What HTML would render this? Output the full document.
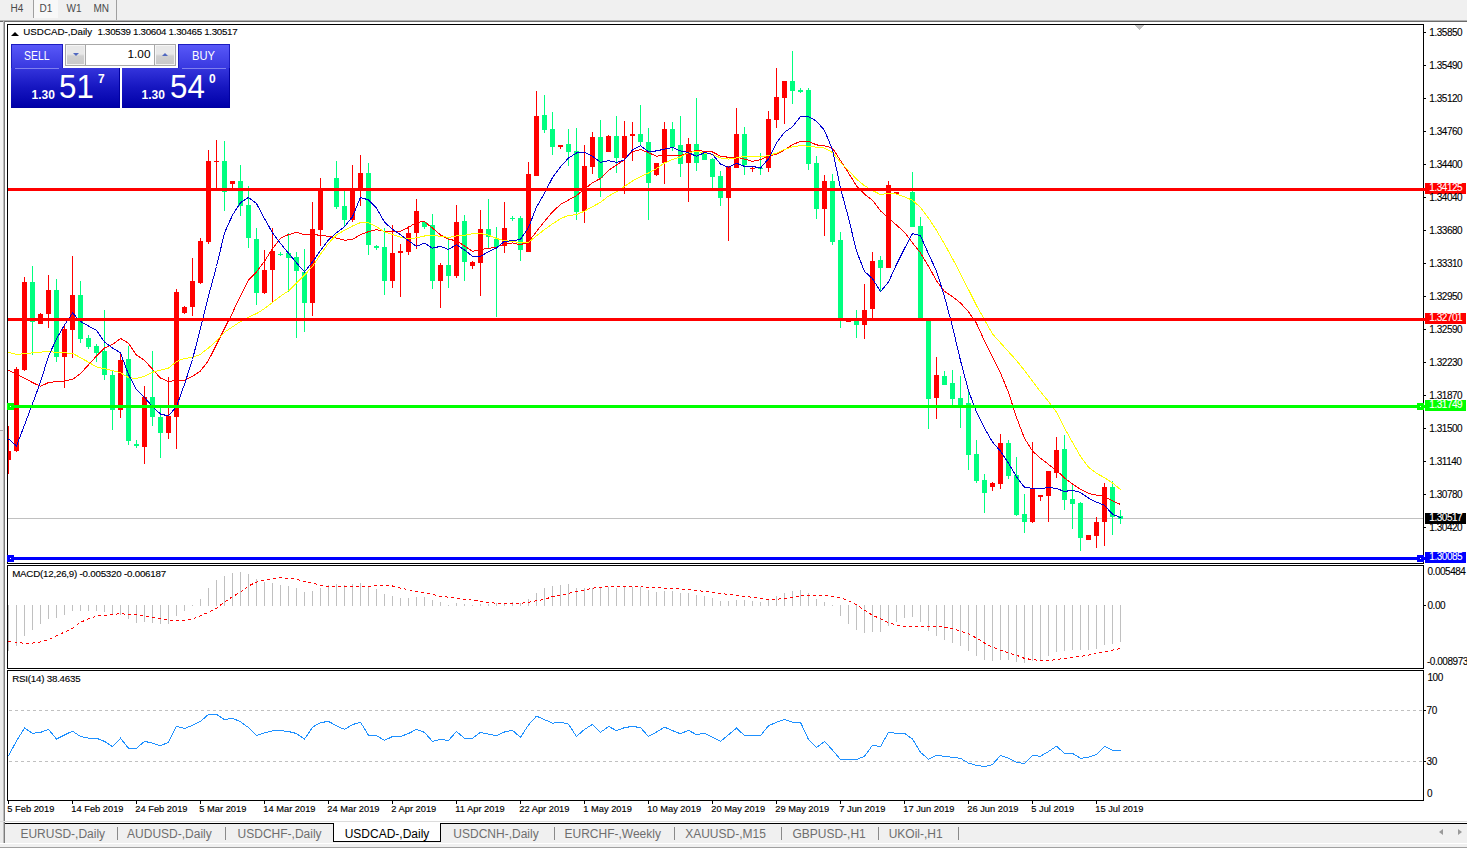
<!DOCTYPE html>
<html><head><meta charset="utf-8"><title>USDCAD-,Daily</title>
<style>
html,body{margin:0;padding:0;background:#fff;}
body{width:1467px;height:850px;position:relative;overflow:hidden;font-family:"Liberation Sans",sans-serif;}
.a{position:absolute;white-space:nowrap;line-height:1;}
.ax{position:absolute;white-space:nowrap;line-height:1;font-size:10px;letter-spacing:-0.47px;color:#000;left:1429.3px;-webkit-text-stroke:0.1px currentColor;}
.dt{position:absolute;white-space:nowrap;line-height:1;font-size:9.3px;color:#000;top:805px;-webkit-text-stroke:0.15px currentColor;}
.tab{position:absolute;white-space:nowrap;line-height:1;font-size:12px;color:#6e6e6e;top:828px;}
.sep{position:absolute;width:1px;height:13px;top:827px;background:#8a8a8a;}
svg{position:absolute;left:0;top:0;}
</style></head><body>
<div class="a" style="left:0;top:0;width:1467px;height:20px;background:#f0f0f0"></div>
<div class="a" style="left:0;top:20px;width:1467px;height:1px;background:#b4b4b4"></div>
<div class="a" style="left:0;top:21px;width:1467px;height:1px;background:#6a6a6a"></div>
<div class="a" style="left:0;top:22px;width:3px;height:408px;background:#f3f3f3"></div>
<div class="a" style="left:0;top:430px;width:3px;height:1px;background:#a8a8a8"></div>
<div class="a" style="left:0;top:431px;width:3px;height:412px;background:#ececec"></div>
<div class="a" style="left:3px;top:21px;width:1px;height:822px;background:#bcbcbc"></div>
<div class="a" style="left:4px;top:21px;width:1px;height:822px;background:#7c7c7c"></div>
<div class="a" style="left:34px;top:0;width:24px;height:18px;background:#f8f8f8"></div>
<div class="a" style="left:33px;top:0;width:1px;height:18px;background:#a0a0a0"></div>
<div class="a" style="left:116px;top:0;width:1px;height:20px;background:#a0a0a0"></div>
<div class="a" style="left:10.5px;top:3.5px;font-size:10px;color:#4a4a4a">H4</div>
<div class="a" style="left:39.5px;top:3.5px;font-size:10px;color:#4a4a4a">D1</div>
<div class="a" style="left:66.5px;top:3.5px;font-size:10px;color:#4a4a4a">W1</div>
<div class="a" style="left:93.5px;top:3.5px;font-size:10px;color:#4a4a4a">MN</div>
<div class="a" style="left:0;top:821px;width:1467px;height:1px;background:#dcdcdc"></div>
<div class="a" style="left:5px;top:823px;width:1462px;height:1px;background:#000"></div>
<div class="a" style="left:5px;top:824px;width:1462px;height:19px;background:#f0f0f0"></div>
<div class="a" style="left:0;top:843px;width:1467px;height:1px;background:#ffffff"></div>
<div class="a" style="left:0;top:844px;width:1467px;height:3px;background:#f0f0f0"></div>
<div class="a" style="left:0;top:847px;width:1467px;height:1px;background:#a0a0a0"></div>
<div class="a" style="left:0;top:848px;width:1467px;height:2px;background:#ffffff"></div>
<div class="a" style="left:333px;top:823px;width:108px;height:19px;background:#fff;border-left:1px solid #000;border-right:1px solid #000;border-bottom:1px solid #000;box-sizing:border-box"></div>
<div class="tab" style="left:20.4px">EURUSD-,Daily</div>
<div class="tab" style="left:127.1px">AUDUSD-,Daily</div>
<div class="tab" style="left:237.6px">USDCHF-,Daily</div>
<div class="tab" style="left:453.3px">USDCNH-,Daily</div>
<div class="tab" style="left:564.5px">EURCHF-,Weekly</div>
<div class="tab" style="left:685.2px">XAUUSD-,M15</div>
<div class="tab" style="left:792.4px">GBPUSD-,H1</div>
<div class="tab" style="left:888.7px">UKOil-,H1</div>
<div class="tab" style="left:344.7px;color:#000">USDCAD-,Daily</div>
<div class="sep" style="left:117px"></div>
<div class="sep" style="left:225px"></div>
<div class="sep" style="left:554px"></div>
<div class="sep" style="left:674px"></div>
<div class="sep" style="left:781px"></div>
<div class="sep" style="left:878px"></div>
<div class="sep" style="left:958px"></div>
<div class="a" style="left:1439px;top:829px;width:0;height:0;border-top:3.5px solid transparent;border-bottom:3.5px solid transparent;border-right:4px solid #9a9a9a"></div>
<div class="a" style="left:1458px;top:829px;width:0;height:0;border-top:3.5px solid transparent;border-bottom:3.5px solid transparent;border-left:4px solid #9a9a9a"></div>
<svg width="1467" height="850" viewBox="0 0 1467 850" shape-rendering="crispEdges">
<rect x="8" y="518" width="1415" height="1" fill="#c0c0c0"/>
<rect x="8" y="426" width="1" height="48" fill="#ff0000"/>
<rect x="8" y="451" width="3" height="9" fill="#ff0000"/>
<rect x="16" y="367" width="1" height="85" fill="#ff0000"/>
<rect x="14" y="369" width="5" height="82" fill="#ff0000"/>
<rect x="24" y="277" width="1" height="94" fill="#ff0000"/>
<rect x="22" y="282" width="5" height="88" fill="#ff0000"/>
<rect x="32" y="266" width="1" height="89" fill="#00ff7f"/>
<rect x="30" y="282" width="5" height="40" fill="#00ff7f"/>
<rect x="40" y="313" width="1" height="11" fill="#ff0000"/>
<rect x="38" y="314" width="5" height="10" fill="#ff0000"/>
<rect x="48" y="275" width="1" height="53" fill="#ff0000"/>
<rect x="46" y="290" width="5" height="24" fill="#ff0000"/>
<rect x="56" y="279" width="1" height="83" fill="#00ff7f"/>
<rect x="54" y="290" width="5" height="67" fill="#00ff7f"/>
<rect x="64" y="326" width="1" height="62" fill="#ff0000"/>
<rect x="62" y="329" width="5" height="28" fill="#ff0000"/>
<rect x="72" y="256" width="1" height="102" fill="#ff0000"/>
<rect x="70" y="295" width="5" height="35" fill="#ff0000"/>
<rect x="80" y="281" width="1" height="62" fill="#00ff7f"/>
<rect x="78" y="295" width="5" height="44" fill="#00ff7f"/>
<rect x="88" y="335" width="1" height="14" fill="#00ff7f"/>
<rect x="86" y="338" width="5" height="9" fill="#00ff7f"/>
<rect x="96" y="344" width="1" height="18" fill="#00ff7f"/>
<rect x="94" y="346" width="5" height="7" fill="#00ff7f"/>
<rect x="104" y="310" width="1" height="70" fill="#00ff7f"/>
<rect x="102" y="351" width="5" height="24" fill="#00ff7f"/>
<rect x="112" y="371" width="1" height="59" fill="#00ff7f"/>
<rect x="110" y="375" width="5" height="35" fill="#00ff7f"/>
<rect x="120" y="353" width="1" height="65" fill="#ff0000"/>
<rect x="118" y="360" width="5" height="50" fill="#ff0000"/>
<rect x="128" y="346" width="1" height="99" fill="#00ff7f"/>
<rect x="126" y="359" width="5" height="82" fill="#00ff7f"/>
<rect x="136" y="440" width="1" height="8" fill="#00ff7f"/>
<rect x="134" y="444" width="5" height="2" fill="#00ff7f"/>
<rect x="144" y="386" width="1" height="78" fill="#ff0000"/>
<rect x="142" y="397" width="5" height="50" fill="#ff0000"/>
<rect x="152" y="351" width="1" height="75" fill="#00ff7f"/>
<rect x="150" y="397" width="5" height="20" fill="#00ff7f"/>
<rect x="160" y="408" width="1" height="50" fill="#00ff7f"/>
<rect x="158" y="417" width="5" height="16" fill="#00ff7f"/>
<rect x="168" y="377" width="1" height="62" fill="#ff0000"/>
<rect x="166" y="416" width="5" height="17" fill="#ff0000"/>
<rect x="176" y="289" width="1" height="160" fill="#ff0000"/>
<rect x="174" y="292" width="5" height="125" fill="#ff0000"/>
<rect x="184" y="306" width="1" height="8" fill="#ff0000"/>
<rect x="182" y="307" width="5" height="6" fill="#ff0000"/>
<rect x="192" y="258" width="1" height="58" fill="#ff0000"/>
<rect x="190" y="281" width="5" height="26" fill="#ff0000"/>
<rect x="200" y="238" width="1" height="46" fill="#ff0000"/>
<rect x="198" y="241" width="5" height="42" fill="#ff0000"/>
<rect x="208" y="150" width="1" height="94" fill="#ff0000"/>
<rect x="206" y="161" width="5" height="81" fill="#ff0000"/>
<rect x="216" y="140" width="1" height="50" fill="#ff0000"/>
<rect x="214" y="161" width="5" height="1" fill="#ff0000"/>
<rect x="224" y="141" width="1" height="70" fill="#00ff7f"/>
<rect x="222" y="161" width="5" height="31" fill="#00ff7f"/>
<rect x="232" y="181" width="1" height="7" fill="#ff0000"/>
<rect x="230" y="181" width="5" height="3" fill="#ff0000"/>
<rect x="240" y="165" width="1" height="51" fill="#00ff7f"/>
<rect x="238" y="181" width="5" height="25" fill="#00ff7f"/>
<rect x="248" y="186" width="1" height="62" fill="#00ff7f"/>
<rect x="246" y="205" width="5" height="33" fill="#00ff7f"/>
<rect x="256" y="228" width="1" height="77" fill="#00ff7f"/>
<rect x="254" y="239" width="5" height="54" fill="#00ff7f"/>
<rect x="264" y="250" width="1" height="44" fill="#ff0000"/>
<rect x="262" y="270" width="5" height="23" fill="#ff0000"/>
<rect x="272" y="228" width="1" height="75" fill="#ff0000"/>
<rect x="270" y="251" width="5" height="19" fill="#ff0000"/>
<rect x="280" y="252" width="1" height="4" fill="#00ff7f"/>
<rect x="278" y="254" width="5" height="1" fill="#00ff7f"/>
<rect x="288" y="233" width="1" height="59" fill="#00ff7f"/>
<rect x="286" y="253" width="5" height="5" fill="#00ff7f"/>
<rect x="296" y="252" width="1" height="86" fill="#00ff7f"/>
<rect x="294" y="257" width="5" height="14" fill="#00ff7f"/>
<rect x="304" y="249" width="1" height="83" fill="#00ff7f"/>
<rect x="302" y="272" width="5" height="31" fill="#00ff7f"/>
<rect x="312" y="202" width="1" height="114" fill="#ff0000"/>
<rect x="310" y="229" width="5" height="74" fill="#ff0000"/>
<rect x="320" y="178" width="1" height="68" fill="#ff0000"/>
<rect x="318" y="188" width="5" height="42" fill="#ff0000"/>
<rect x="328" y="236" width="1" height="1" fill="#ff0000"/>
<rect x="326" y="236" width="5" height="1" fill="#ff0000"/>
<rect x="336" y="161" width="1" height="48" fill="#00ff7f"/>
<rect x="334" y="178" width="5" height="29" fill="#00ff7f"/>
<rect x="344" y="191" width="1" height="36" fill="#00ff7f"/>
<rect x="342" y="206" width="5" height="14" fill="#00ff7f"/>
<rect x="352" y="165" width="1" height="57" fill="#ff0000"/>
<rect x="350" y="188" width="5" height="32" fill="#ff0000"/>
<rect x="360" y="155" width="1" height="51" fill="#ff0000"/>
<rect x="358" y="173" width="5" height="16" fill="#ff0000"/>
<rect x="368" y="163" width="1" height="92" fill="#00ff7f"/>
<rect x="366" y="173" width="5" height="72" fill="#00ff7f"/>
<rect x="376" y="245" width="1" height="5" fill="#00ff7f"/>
<rect x="374" y="246" width="5" height="2" fill="#00ff7f"/>
<rect x="384" y="228" width="1" height="67" fill="#00ff7f"/>
<rect x="382" y="247" width="5" height="34" fill="#00ff7f"/>
<rect x="392" y="225" width="1" height="63" fill="#ff0000"/>
<rect x="390" y="253" width="5" height="28" fill="#ff0000"/>
<rect x="400" y="244" width="1" height="53" fill="#ff0000"/>
<rect x="398" y="251" width="5" height="2" fill="#ff0000"/>
<rect x="408" y="226" width="1" height="29" fill="#ff0000"/>
<rect x="406" y="233" width="5" height="19" fill="#ff0000"/>
<rect x="416" y="199" width="1" height="50" fill="#ff0000"/>
<rect x="414" y="211" width="5" height="22" fill="#ff0000"/>
<rect x="424" y="221" width="1" height="8" fill="#00ff7f"/>
<rect x="422" y="222" width="5" height="5" fill="#00ff7f"/>
<rect x="432" y="214" width="1" height="75" fill="#00ff7f"/>
<rect x="430" y="225" width="5" height="56" fill="#00ff7f"/>
<rect x="440" y="263" width="1" height="45" fill="#ff0000"/>
<rect x="438" y="265" width="5" height="16" fill="#ff0000"/>
<rect x="448" y="238" width="1" height="50" fill="#00ff7f"/>
<rect x="446" y="265" width="5" height="11" fill="#00ff7f"/>
<rect x="456" y="205" width="1" height="73" fill="#ff0000"/>
<rect x="454" y="222" width="5" height="54" fill="#ff0000"/>
<rect x="464" y="215" width="1" height="66" fill="#00ff7f"/>
<rect x="462" y="221" width="5" height="41" fill="#00ff7f"/>
<rect x="472" y="261" width="1" height="8" fill="#ff0000"/>
<rect x="470" y="262" width="5" height="4" fill="#ff0000"/>
<rect x="480" y="210" width="1" height="86" fill="#ff0000"/>
<rect x="478" y="229" width="5" height="34" fill="#ff0000"/>
<rect x="488" y="199" width="1" height="50" fill="#00ff7f"/>
<rect x="486" y="229" width="5" height="8" fill="#00ff7f"/>
<rect x="496" y="227" width="1" height="90" fill="#00ff7f"/>
<rect x="494" y="239" width="5" height="8" fill="#00ff7f"/>
<rect x="504" y="202" width="1" height="51" fill="#ff0000"/>
<rect x="502" y="228" width="5" height="18" fill="#ff0000"/>
<rect x="512" y="216" width="1" height="5" fill="#00ff7f"/>
<rect x="510" y="218" width="5" height="1" fill="#00ff7f"/>
<rect x="520" y="216" width="1" height="45" fill="#00ff7f"/>
<rect x="518" y="218" width="5" height="32" fill="#00ff7f"/>
<rect x="528" y="162" width="1" height="90" fill="#ff0000"/>
<rect x="526" y="174" width="5" height="78" fill="#ff0000"/>
<rect x="536" y="91" width="1" height="85" fill="#ff0000"/>
<rect x="534" y="116" width="5" height="60" fill="#ff0000"/>
<rect x="544" y="95" width="1" height="38" fill="#00ff7f"/>
<rect x="542" y="115" width="5" height="15" fill="#00ff7f"/>
<rect x="552" y="112" width="1" height="43" fill="#00ff7f"/>
<rect x="550" y="129" width="5" height="18" fill="#00ff7f"/>
<rect x="560" y="145" width="1" height="4" fill="#ff0000"/>
<rect x="558" y="145" width="5" height="2" fill="#ff0000"/>
<rect x="568" y="129" width="1" height="37" fill="#00ff7f"/>
<rect x="566" y="144" width="5" height="8" fill="#00ff7f"/>
<rect x="576" y="128" width="1" height="92" fill="#00ff7f"/>
<rect x="574" y="151" width="5" height="61" fill="#00ff7f"/>
<rect x="584" y="145" width="1" height="78" fill="#ff0000"/>
<rect x="582" y="166" width="5" height="45" fill="#ff0000"/>
<rect x="592" y="132" width="1" height="42" fill="#ff0000"/>
<rect x="590" y="137" width="5" height="30" fill="#ff0000"/>
<rect x="600" y="120" width="1" height="77" fill="#00ff7f"/>
<rect x="598" y="137" width="5" height="41" fill="#00ff7f"/>
<rect x="608" y="135" width="1" height="17" fill="#ff0000"/>
<rect x="606" y="136" width="5" height="16" fill="#ff0000"/>
<rect x="616" y="116" width="1" height="57" fill="#00ff7f"/>
<rect x="614" y="136" width="5" height="22" fill="#00ff7f"/>
<rect x="624" y="121" width="1" height="73" fill="#ff0000"/>
<rect x="622" y="136" width="5" height="22" fill="#ff0000"/>
<rect x="632" y="122" width="1" height="39" fill="#ff0000"/>
<rect x="630" y="134" width="5" height="2" fill="#ff0000"/>
<rect x="640" y="105" width="1" height="41" fill="#00ff7f"/>
<rect x="638" y="134" width="5" height="8" fill="#00ff7f"/>
<rect x="648" y="128" width="1" height="92" fill="#00ff7f"/>
<rect x="646" y="142" width="5" height="41" fill="#00ff7f"/>
<rect x="656" y="163" width="1" height="13" fill="#ff0000"/>
<rect x="654" y="163" width="5" height="12" fill="#ff0000"/>
<rect x="664" y="122" width="1" height="62" fill="#ff0000"/>
<rect x="662" y="129" width="5" height="34" fill="#ff0000"/>
<rect x="672" y="122" width="1" height="29" fill="#00ff7f"/>
<rect x="670" y="129" width="5" height="18" fill="#00ff7f"/>
<rect x="680" y="116" width="1" height="61" fill="#00ff7f"/>
<rect x="678" y="145" width="5" height="19" fill="#00ff7f"/>
<rect x="688" y="138" width="1" height="64" fill="#ff0000"/>
<rect x="686" y="144" width="5" height="19" fill="#ff0000"/>
<rect x="696" y="98" width="1" height="73" fill="#00ff7f"/>
<rect x="694" y="144" width="5" height="19" fill="#00ff7f"/>
<rect x="704" y="151" width="1" height="9" fill="#00ff7f"/>
<rect x="702" y="152" width="5" height="8" fill="#00ff7f"/>
<rect x="712" y="158" width="1" height="32" fill="#00ff7f"/>
<rect x="710" y="159" width="5" height="18" fill="#00ff7f"/>
<rect x="720" y="171" width="1" height="35" fill="#00ff7f"/>
<rect x="718" y="176" width="5" height="22" fill="#00ff7f"/>
<rect x="728" y="166" width="1" height="75" fill="#ff0000"/>
<rect x="726" y="166" width="5" height="32" fill="#ff0000"/>
<rect x="736" y="108" width="1" height="60" fill="#ff0000"/>
<rect x="734" y="134" width="5" height="34" fill="#ff0000"/>
<rect x="744" y="127" width="1" height="48" fill="#00ff7f"/>
<rect x="742" y="134" width="5" height="31" fill="#00ff7f"/>
<rect x="752" y="167" width="1" height="5" fill="#ff0000"/>
<rect x="750" y="168" width="5" height="1" fill="#ff0000"/>
<rect x="760" y="153" width="1" height="22" fill="#00ff7f"/>
<rect x="758" y="168" width="5" height="1" fill="#00ff7f"/>
<rect x="768" y="111" width="1" height="61" fill="#ff0000"/>
<rect x="766" y="119" width="5" height="49" fill="#ff0000"/>
<rect x="776" y="68" width="1" height="60" fill="#ff0000"/>
<rect x="774" y="97" width="5" height="23" fill="#ff0000"/>
<rect x="784" y="81" width="1" height="43" fill="#ff0000"/>
<rect x="782" y="81" width="5" height="17" fill="#ff0000"/>
<rect x="792" y="51" width="1" height="53" fill="#00ff7f"/>
<rect x="790" y="81" width="5" height="10" fill="#00ff7f"/>
<rect x="800" y="88" width="1" height="5" fill="#00ff7f"/>
<rect x="798" y="90" width="5" height="2" fill="#00ff7f"/>
<rect x="808" y="88" width="1" height="82" fill="#00ff7f"/>
<rect x="806" y="90" width="5" height="74" fill="#00ff7f"/>
<rect x="816" y="156" width="1" height="63" fill="#00ff7f"/>
<rect x="814" y="163" width="5" height="46" fill="#00ff7f"/>
<rect x="824" y="175" width="1" height="61" fill="#ff0000"/>
<rect x="822" y="181" width="5" height="28" fill="#ff0000"/>
<rect x="832" y="174" width="1" height="71" fill="#00ff7f"/>
<rect x="830" y="181" width="5" height="61" fill="#00ff7f"/>
<rect x="840" y="232" width="1" height="96" fill="#00ff7f"/>
<rect x="838" y="240" width="5" height="79" fill="#00ff7f"/>
<rect x="848" y="318" width="1" height="4" fill="#ff0000"/>
<rect x="846" y="318" width="5" height="4" fill="#ff0000"/>
<rect x="856" y="310" width="1" height="28" fill="#00ff7f"/>
<rect x="854" y="321" width="5" height="4" fill="#00ff7f"/>
<rect x="864" y="284" width="1" height="55" fill="#ff0000"/>
<rect x="862" y="310" width="5" height="15" fill="#ff0000"/>
<rect x="872" y="252" width="1" height="66" fill="#ff0000"/>
<rect x="870" y="261" width="5" height="48" fill="#ff0000"/>
<rect x="880" y="256" width="1" height="36" fill="#00ff7f"/>
<rect x="878" y="260" width="5" height="8" fill="#00ff7f"/>
<rect x="888" y="181" width="1" height="87" fill="#ff0000"/>
<rect x="886" y="185" width="5" height="83" fill="#ff0000"/>
<rect x="896" y="192" width="1" height="2" fill="#ff0000"/>
<rect x="894" y="192" width="5" height="2" fill="#ff0000"/>
<rect x="912" y="172" width="1" height="55" fill="#00ff7f"/>
<rect x="910" y="192" width="5" height="35" fill="#00ff7f"/>
<rect x="920" y="217" width="1" height="102" fill="#00ff7f"/>
<rect x="918" y="226" width="5" height="93" fill="#00ff7f"/>
<rect x="928" y="318" width="1" height="111" fill="#00ff7f"/>
<rect x="926" y="320" width="5" height="79" fill="#00ff7f"/>
<rect x="936" y="357" width="1" height="62" fill="#ff0000"/>
<rect x="934" y="375" width="5" height="23" fill="#ff0000"/>
<rect x="944" y="371" width="1" height="14" fill="#00ff7f"/>
<rect x="942" y="376" width="5" height="9" fill="#00ff7f"/>
<rect x="952" y="370" width="1" height="35" fill="#00ff7f"/>
<rect x="950" y="383" width="5" height="16" fill="#00ff7f"/>
<rect x="960" y="376" width="1" height="52" fill="#00ff7f"/>
<rect x="958" y="398" width="5" height="8" fill="#00ff7f"/>
<rect x="968" y="392" width="1" height="78" fill="#00ff7f"/>
<rect x="966" y="403" width="5" height="52" fill="#00ff7f"/>
<rect x="976" y="440" width="1" height="43" fill="#00ff7f"/>
<rect x="974" y="454" width="5" height="27" fill="#00ff7f"/>
<rect x="984" y="474" width="1" height="39" fill="#00ff7f"/>
<rect x="982" y="480" width="5" height="13" fill="#00ff7f"/>
<rect x="992" y="482" width="1" height="9" fill="#ff0000"/>
<rect x="990" y="483" width="5" height="4" fill="#ff0000"/>
<rect x="1000" y="434" width="1" height="55" fill="#ff0000"/>
<rect x="998" y="443" width="5" height="41" fill="#ff0000"/>
<rect x="1008" y="440" width="1" height="39" fill="#00ff7f"/>
<rect x="1006" y="443" width="5" height="33" fill="#00ff7f"/>
<rect x="1016" y="457" width="1" height="59" fill="#00ff7f"/>
<rect x="1014" y="475" width="5" height="40" fill="#00ff7f"/>
<rect x="1024" y="494" width="1" height="39" fill="#00ff7f"/>
<rect x="1022" y="514" width="5" height="8" fill="#00ff7f"/>
<rect x="1032" y="442" width="1" height="81" fill="#ff0000"/>
<rect x="1030" y="488" width="5" height="34" fill="#ff0000"/>
<rect x="1040" y="495" width="1" height="6" fill="#ff0000"/>
<rect x="1038" y="495" width="5" height="2" fill="#ff0000"/>
<rect x="1048" y="471" width="1" height="51" fill="#ff0000"/>
<rect x="1046" y="471" width="5" height="25" fill="#ff0000"/>
<rect x="1056" y="437" width="1" height="41" fill="#ff0000"/>
<rect x="1054" y="450" width="5" height="23" fill="#ff0000"/>
<rect x="1064" y="435" width="1" height="75" fill="#00ff7f"/>
<rect x="1062" y="449" width="5" height="51" fill="#00ff7f"/>
<rect x="1072" y="484" width="1" height="45" fill="#00ff7f"/>
<rect x="1070" y="499" width="5" height="5" fill="#00ff7f"/>
<rect x="1080" y="502" width="1" height="49" fill="#00ff7f"/>
<rect x="1078" y="503" width="5" height="35" fill="#00ff7f"/>
<rect x="1088" y="535" width="1" height="5" fill="#ff0000"/>
<rect x="1086" y="535" width="5" height="5" fill="#ff0000"/>
<rect x="1096" y="517" width="1" height="31" fill="#ff0000"/>
<rect x="1094" y="522" width="5" height="14" fill="#ff0000"/>
<rect x="1104" y="483" width="1" height="63" fill="#ff0000"/>
<rect x="1102" y="487" width="5" height="35" fill="#ff0000"/>
<rect x="1112" y="481" width="1" height="54" fill="#00ff7f"/>
<rect x="1110" y="487" width="5" height="30" fill="#00ff7f"/>
<rect x="1120" y="510" width="1" height="14" fill="#00ff7f"/>
<rect x="1118" y="516" width="5" height="3" fill="#00ff7f"/>
<polyline points="8.5,370.1 16.5,374.6 24.5,378.1 32.5,382.5 40.5,386.4 48.5,382.5 56.5,381.7 64.5,381.1 72.5,379.3 80.5,373.7 88.5,364.8 96.5,356.0 104.5,348.0 112.5,344.4 120.5,338.5 128.5,343.2 136.5,355.1 144.5,360.4 152.5,369.2 160.5,378.1 168.5,381.5 176.5,380.5 184.5,380.4 192.5,376.3 200.5,371.0 208.5,360.4 216.5,344.5 224.5,328.6 232.5,312.7 240.5,295.8 248.5,279.9 256.5,271.8 264.5,261.2 272.5,248.8 280.5,238.1 288.5,234.6 296.5,232.4 304.5,234.6 312.5,234.2 320.5,235.5 328.5,236.3 336.5,238.1 344.5,240.2 352.5,239.5 360.5,234.6 368.5,231.6 376.5,229.6 384.5,231.4 392.5,231.0 400.5,231.4 408.5,227.5 416.5,222.2 424.5,221.8 432.5,228.0 440.5,235.0 448.5,239.2 456.5,240.8 464.5,245.9 472.5,251.4 480.5,249.5 488.5,248.4 496.5,247.2 504.5,243.8 512.5,242.9 520.5,244.7 528.5,242.0 536.5,231.4 544.5,221.4 552.5,211.8 560.5,204.5 568.5,200.0 576.5,195.6 584.5,189.0 592.5,182.8 600.5,178.4 608.5,170.4 616.5,165.1 624.5,159.8 632.5,151.8 640.5,149.5 648.5,152.7 656.5,156.2 664.5,155.3 672.5,155.3 680.5,155.5 688.5,152.6 696.5,150.2 704.5,151.3 712.5,152.0 720.5,156.1 728.5,157.3 736.5,157.3 744.5,159.1 752.5,161.4 760.5,159.6 768.5,156.1 776.5,154.3 784.5,149.9 792.5,144.6 800.5,141.4 808.5,141.4 816.5,144.9 824.5,145.8 832.5,148.1 840.5,160.5 848.5,172.9 856.5,186.0 864.5,194.1 872.5,200.3 880.5,210.9 888.5,218.0 896.5,225.1 904.5,232.2 912.5,242.8 920.5,252.9 928.5,266.2 936.5,280.8 944.5,291.4 952.5,296.7 960.5,302.9 968.5,311.8 976.5,323.3 984.5,341.0 992.5,357.0 1000.5,373.0 1008.5,392.5 1016.5,417.4 1024.5,438.3 1032.5,451.1 1040.5,458.2 1048.5,464.4 1056.5,470.4 1064.5,477.9 1072.5,484.0 1080.5,489.2 1088.5,493.4 1096.5,495.2 1104.5,496.4 1112.5,500.9 1120.5,504.4" fill="none" stroke="#ff0000" stroke-width="1"/>
<polyline points="8.5,352.4 16.5,354.5 24.5,353.6 32.5,352.9 40.5,352.1 48.5,351.5 56.5,352.4 64.5,352.9 72.5,353.3 80.5,357.7 88.5,362.2 96.5,366.9 104.5,368.7 112.5,370.5 120.5,372.8 128.5,377.6 136.5,378.5 144.5,376.3 152.5,372.3 160.5,370.1 168.5,368.0 176.5,361.6 184.5,358.3 192.5,357.7 200.5,354.2 208.5,348.0 216.5,340.9 224.5,332.2 232.5,326.9 240.5,321.5 248.5,317.1 256.5,313.6 264.5,308.6 272.5,302.4 280.5,296.2 288.5,290.9 296.5,282.9 304.5,274.9 312.5,266.7 320.5,254.3 328.5,243.3 336.5,235.0 344.5,230.3 352.5,226.0 360.5,222.6 368.5,222.6 376.5,226.6 384.5,231.9 392.5,234.6 400.5,237.2 408.5,239.0 416.5,237.8 424.5,236.0 432.5,235.6 440.5,236.2 448.5,237.4 456.5,236.0 464.5,235.4 472.5,233.6 480.5,233.4 488.5,235.2 496.5,238.4 504.5,240.8 512.5,241.3 520.5,242.9 528.5,242.4 536.5,235.8 544.5,229.6 552.5,223.9 560.5,218.6 568.5,215.5 576.5,214.6 584.5,211.1 592.5,206.7 600.5,202.3 608.5,196.1 616.5,191.6 624.5,186.3 632.5,181.0 640.5,176.6 648.5,173.0 656.5,168.6 664.5,163.0 672.5,159.4 680.5,157.0 688.5,152.6 696.5,151.1 704.5,153.4 712.5,154.3 720.5,157.9 728.5,159.1 736.5,157.9 744.5,156.4 752.5,156.6 760.5,157.0 768.5,155.6 776.5,153.1 784.5,149.5 792.5,146.9 800.5,145.5 808.5,146.3 816.5,147.2 824.5,148.1 832.5,152.5 840.5,162.3 848.5,170.3 856.5,179.1 864.5,185.7 872.5,190.5 880.5,194.6 888.5,193.2 896.5,194.1 904.5,196.7 912.5,200.3 920.5,207.4 928.5,218.0 936.5,230.4 944.5,244.0 952.5,258.6 960.5,273.7 968.5,289.6 976.5,305.6 984.5,319.8 992.5,333.9 1000.5,342.8 1008.5,351.7 1016.5,360.5 1024.5,370.5 1032.5,381.0 1040.5,391.7 1048.5,401.4 1056.5,412.0 1064.5,428.0 1072.5,442.3 1080.5,456.4 1088.5,467.1 1096.5,473.3 1104.5,477.7 1112.5,483.0 1120.5,489.6" fill="none" stroke="#ffff00" stroke-width="1"/>
<polyline points="8.5,438.9 16.5,446.0 24.5,425.0 32.5,403.8 40.5,382.0 48.5,356.0 56.5,339.0 64.5,325.0 72.5,313.0 80.5,321.5 88.5,326.0 96.5,330.4 104.5,342.0 112.5,348.0 120.5,352.8 128.5,374.6 136.5,389.6 144.5,397.6 152.5,406.5 160.5,414.1 168.5,415.9 176.5,406.5 184.5,384.3 192.5,359.5 200.5,328.0 208.5,296.0 216.5,266.5 224.5,232.8 232.5,215.1 240.5,202.7 248.5,197.4 256.5,203.6 264.5,218.6 272.5,232.8 280.5,243.4 288.5,253.2 296.5,262.9 304.5,271.8 312.5,262.0 320.5,250.5 328.5,239.9 336.5,232.8 344.5,226.6 352.5,216.8 360.5,197.4 368.5,200.0 376.5,208.0 384.5,222.2 392.5,229.3 400.5,234.6 408.5,240.8 416.5,246.3 424.5,243.2 432.5,248.2 440.5,246.3 448.5,249.5 456.5,244.7 464.5,250.0 472.5,256.2 480.5,256.2 488.5,251.8 496.5,248.0 504.5,241.3 512.5,240.8 520.5,239.4 528.5,227.5 536.5,207.0 544.5,193.3 552.5,177.5 560.5,166.8 568.5,158.0 576.5,153.0 584.5,152.3 592.5,156.2 600.5,162.4 608.5,160.6 616.5,162.4 624.5,159.8 632.5,150.0 640.5,145.6 648.5,151.8 656.5,150.9 664.5,149.1 672.5,147.4 680.5,151.0 688.5,152.6 696.5,156.4 704.5,152.5 712.5,154.3 720.5,164.1 728.5,167.3 736.5,163.2 744.5,166.4 752.5,166.4 760.5,168.0 768.5,158.8 776.5,142.8 784.5,132.2 792.5,126.8 800.5,116.6 808.5,116.6 816.5,121.2 824.5,130.4 832.5,149.9 840.5,188.0 848.5,218.0 856.5,251.0 864.5,271.5 872.5,278.6 880.5,291.5 888.5,282.0 896.5,264.5 904.5,248.5 912.5,233.6 920.5,235.7 928.5,254.0 936.5,271.0 944.5,296.7 952.5,326.8 960.5,360.5 968.5,390.8 976.5,412.0 984.5,428.0 992.5,442.0 1000.5,451.2 1008.5,463.1 1016.5,476.9 1024.5,487.3 1032.5,488.4 1040.5,489.0 1048.5,487.3 1056.5,488.5 1064.5,491.5 1072.5,490.2 1080.5,492.5 1088.5,498.1 1096.5,502.1 1104.5,505.3 1112.5,514.2 1120.5,517.7" fill="none" stroke="#0000d0" stroke-width="1"/>
<polygon points="1134,25 1144,25 1139,30" fill="#c0c0c0"/>
<rect x="8" y="605" width="1" height="46" fill="#c0c0c0"/>
<rect x="16" y="605" width="1" height="41" fill="#c0c0c0"/>
<rect x="24" y="605" width="1" height="31" fill="#c0c0c0"/>
<rect x="32" y="605" width="1" height="25" fill="#c0c0c0"/>
<rect x="40" y="605" width="1" height="19" fill="#c0c0c0"/>
<rect x="48" y="605" width="1" height="14" fill="#c0c0c0"/>
<rect x="56" y="605" width="1" height="13" fill="#c0c0c0"/>
<rect x="64" y="605" width="1" height="10" fill="#c0c0c0"/>
<rect x="72" y="605" width="1" height="6" fill="#c0c0c0"/>
<rect x="80" y="605" width="1" height="6" fill="#c0c0c0"/>
<rect x="88" y="605" width="1" height="6" fill="#c0c0c0"/>
<rect x="96" y="605" width="1" height="6" fill="#c0c0c0"/>
<rect x="104" y="605" width="1" height="7" fill="#c0c0c0"/>
<rect x="112" y="605" width="1" height="9" fill="#c0c0c0"/>
<rect x="120" y="605" width="1" height="10" fill="#c0c0c0"/>
<rect x="128" y="605" width="1" height="14" fill="#c0c0c0"/>
<rect x="136" y="605" width="1" height="18" fill="#c0c0c0"/>
<rect x="144" y="605" width="1" height="17" fill="#c0c0c0"/>
<rect x="152" y="605" width="1" height="18" fill="#c0c0c0"/>
<rect x="160" y="605" width="1" height="19" fill="#c0c0c0"/>
<rect x="168" y="605" width="1" height="19" fill="#c0c0c0"/>
<rect x="176" y="605" width="1" height="11" fill="#c0c0c0"/>
<rect x="184" y="605" width="1" height="6" fill="#c0c0c0"/>
<rect x="192" y="605" width="1" height="1" fill="#c0c0c0"/>
<rect x="200" y="599" width="1" height="7" fill="#c0c0c0"/>
<rect x="208" y="588" width="1" height="18" fill="#c0c0c0"/>
<rect x="216" y="580" width="1" height="26" fill="#c0c0c0"/>
<rect x="224" y="576" width="1" height="30" fill="#c0c0c0"/>
<rect x="232" y="573" width="1" height="33" fill="#c0c0c0"/>
<rect x="240" y="572" width="1" height="34" fill="#c0c0c0"/>
<rect x="248" y="574" width="1" height="32" fill="#c0c0c0"/>
<rect x="256" y="579" width="1" height="27" fill="#c0c0c0"/>
<rect x="264" y="582" width="1" height="24" fill="#c0c0c0"/>
<rect x="272" y="583" width="1" height="23" fill="#c0c0c0"/>
<rect x="280" y="585" width="1" height="21" fill="#c0c0c0"/>
<rect x="288" y="586" width="1" height="20" fill="#c0c0c0"/>
<rect x="296" y="588" width="1" height="18" fill="#c0c0c0"/>
<rect x="304" y="592" width="1" height="14" fill="#c0c0c0"/>
<rect x="312" y="591" width="1" height="15" fill="#c0c0c0"/>
<rect x="320" y="588" width="1" height="18" fill="#c0c0c0"/>
<rect x="328" y="585" width="1" height="21" fill="#c0c0c0"/>
<rect x="336" y="584" width="1" height="22" fill="#c0c0c0"/>
<rect x="344" y="585" width="1" height="21" fill="#c0c0c0"/>
<rect x="352" y="584" width="1" height="22" fill="#c0c0c0"/>
<rect x="360" y="583" width="1" height="23" fill="#c0c0c0"/>
<rect x="368" y="587" width="1" height="19" fill="#c0c0c0"/>
<rect x="376" y="589" width="1" height="17" fill="#c0c0c0"/>
<rect x="384" y="594" width="1" height="12" fill="#c0c0c0"/>
<rect x="392" y="596" width="1" height="10" fill="#c0c0c0"/>
<rect x="400" y="598" width="1" height="8" fill="#c0c0c0"/>
<rect x="408" y="598" width="1" height="8" fill="#c0c0c0"/>
<rect x="416" y="597" width="1" height="9" fill="#c0c0c0"/>
<rect x="424" y="597" width="1" height="9" fill="#c0c0c0"/>
<rect x="432" y="600" width="1" height="6" fill="#c0c0c0"/>
<rect x="440" y="602" width="1" height="4" fill="#c0c0c0"/>
<rect x="448" y="605" width="1" height="1" fill="#c0c0c0"/>
<rect x="456" y="603" width="1" height="3" fill="#c0c0c0"/>
<rect x="464" y="604" width="1" height="2" fill="#c0c0c0"/>
<rect x="472" y="605" width="1" height="1" fill="#c0c0c0"/>
<rect x="480" y="604" width="1" height="2" fill="#c0c0c0"/>
<rect x="488" y="604" width="1" height="2" fill="#c0c0c0"/>
<rect x="496" y="603" width="1" height="3" fill="#c0c0c0"/>
<rect x="504" y="603" width="1" height="3" fill="#c0c0c0"/>
<rect x="512" y="602" width="1" height="4" fill="#c0c0c0"/>
<rect x="520" y="603" width="1" height="3" fill="#c0c0c0"/>
<rect x="528" y="599" width="1" height="7" fill="#c0c0c0"/>
<rect x="536" y="593" width="1" height="13" fill="#c0c0c0"/>
<rect x="544" y="588" width="1" height="18" fill="#c0c0c0"/>
<rect x="552" y="586" width="1" height="20" fill="#c0c0c0"/>
<rect x="560" y="585" width="1" height="21" fill="#c0c0c0"/>
<rect x="568" y="584" width="1" height="22" fill="#c0c0c0"/>
<rect x="576" y="588" width="1" height="18" fill="#c0c0c0"/>
<rect x="584" y="588" width="1" height="18" fill="#c0c0c0"/>
<rect x="592" y="588" width="1" height="18" fill="#c0c0c0"/>
<rect x="600" y="588" width="1" height="18" fill="#c0c0c0"/>
<rect x="608" y="587" width="1" height="19" fill="#c0c0c0"/>
<rect x="616" y="588" width="1" height="18" fill="#c0c0c0"/>
<rect x="624" y="587" width="1" height="19" fill="#c0c0c0"/>
<rect x="632" y="587" width="1" height="19" fill="#c0c0c0"/>
<rect x="640" y="587" width="1" height="19" fill="#c0c0c0"/>
<rect x="648" y="590" width="1" height="16" fill="#c0c0c0"/>
<rect x="656" y="592" width="1" height="14" fill="#c0c0c0"/>
<rect x="664" y="591" width="1" height="15" fill="#c0c0c0"/>
<rect x="672" y="591" width="1" height="15" fill="#c0c0c0"/>
<rect x="680" y="593" width="1" height="13" fill="#c0c0c0"/>
<rect x="688" y="593" width="1" height="13" fill="#c0c0c0"/>
<rect x="696" y="595" width="1" height="11" fill="#c0c0c0"/>
<rect x="704" y="596" width="1" height="10" fill="#c0c0c0"/>
<rect x="712" y="598" width="1" height="8" fill="#c0c0c0"/>
<rect x="720" y="601" width="1" height="5" fill="#c0c0c0"/>
<rect x="728" y="601" width="1" height="5" fill="#c0c0c0"/>
<rect x="736" y="600" width="1" height="6" fill="#c0c0c0"/>
<rect x="744" y="600" width="1" height="6" fill="#c0c0c0"/>
<rect x="752" y="601" width="1" height="5" fill="#c0c0c0"/>
<rect x="760" y="602" width="1" height="4" fill="#c0c0c0"/>
<rect x="768" y="600" width="1" height="6" fill="#c0c0c0"/>
<rect x="776" y="596" width="1" height="10" fill="#c0c0c0"/>
<rect x="784" y="593" width="1" height="13" fill="#c0c0c0"/>
<rect x="792" y="591" width="1" height="15" fill="#c0c0c0"/>
<rect x="800" y="590" width="1" height="16" fill="#c0c0c0"/>
<rect x="808" y="593" width="1" height="13" fill="#c0c0c0"/>
<rect x="816" y="599" width="1" height="7" fill="#c0c0c0"/>
<rect x="824" y="602" width="1" height="4" fill="#c0c0c0"/>
<rect x="832" y="605" width="1" height="1" fill="#c0c0c0"/>
<rect x="840" y="605" width="1" height="11" fill="#c0c0c0"/>
<rect x="848" y="605" width="1" height="19" fill="#c0c0c0"/>
<rect x="856" y="605" width="1" height="25" fill="#c0c0c0"/>
<rect x="864" y="605" width="1" height="28" fill="#c0c0c0"/>
<rect x="872" y="605" width="1" height="27" fill="#c0c0c0"/>
<rect x="880" y="605" width="1" height="27" fill="#c0c0c0"/>
<rect x="888" y="605" width="1" height="21" fill="#c0c0c0"/>
<rect x="896" y="605" width="1" height="17" fill="#c0c0c0"/>
<rect x="904" y="605" width="1" height="13" fill="#c0c0c0"/>
<rect x="912" y="605" width="1" height="12" fill="#c0c0c0"/>
<rect x="920" y="605" width="1" height="17" fill="#c0c0c0"/>
<rect x="928" y="605" width="1" height="26" fill="#c0c0c0"/>
<rect x="936" y="605" width="1" height="31" fill="#c0c0c0"/>
<rect x="944" y="605" width="1" height="35" fill="#c0c0c0"/>
<rect x="952" y="605" width="1" height="38" fill="#c0c0c0"/>
<rect x="960" y="605" width="1" height="41" fill="#c0c0c0"/>
<rect x="968" y="605" width="1" height="46" fill="#c0c0c0"/>
<rect x="976" y="605" width="1" height="51" fill="#c0c0c0"/>
<rect x="984" y="605" width="1" height="55" fill="#c0c0c0"/>
<rect x="992" y="605" width="1" height="56" fill="#c0c0c0"/>
<rect x="1000" y="605" width="1" height="55" fill="#c0c0c0"/>
<rect x="1008" y="605" width="1" height="55" fill="#c0c0c0"/>
<rect x="1016" y="605" width="1" height="57" fill="#c0c0c0"/>
<rect x="1024" y="605" width="1" height="58" fill="#c0c0c0"/>
<rect x="1032" y="605" width="1" height="56" fill="#c0c0c0"/>
<rect x="1040" y="605" width="1" height="55" fill="#c0c0c0"/>
<rect x="1048" y="605" width="1" height="51" fill="#c0c0c0"/>
<rect x="1056" y="605" width="1" height="47" fill="#c0c0c0"/>
<rect x="1064" y="605" width="1" height="46" fill="#c0c0c0"/>
<rect x="1072" y="605" width="1" height="45" fill="#c0c0c0"/>
<rect x="1080" y="605" width="1" height="45" fill="#c0c0c0"/>
<rect x="1088" y="605" width="1" height="45" fill="#c0c0c0"/>
<rect x="1096" y="605" width="1" height="44" fill="#c0c0c0"/>
<rect x="1104" y="605" width="1" height="40" fill="#c0c0c0"/>
<rect x="1112" y="605" width="1" height="39" fill="#c0c0c0"/>
<rect x="1120" y="605" width="1" height="37" fill="#c0c0c0"/>
<polyline points="8.5,641.3 16.5,642.2 24.5,643.3 32.5,643.1 40.5,641.9 48.5,639.6 56.5,635.7 64.5,632.1 72.5,628.2 80.5,622.4 88.5,618.8 96.5,616.2 104.5,615.3 112.5,614.4 120.5,613.7 128.5,614.4 136.5,614.9 144.5,615.8 152.5,617.4 160.5,618.8 168.5,620.1 176.5,620.6 184.5,620.1 192.5,618.8 200.5,615.8 208.5,612.3 216.5,608.2 224.5,602.0 232.5,596.7 240.5,592.2 248.5,586.0 256.5,582.1 264.5,580.2 272.5,578.4 280.5,577.5 288.5,578.4 296.5,579.3 304.5,581.3 312.5,582.9 320.5,585.5 328.5,586.4 336.5,586.4 344.5,586.4 352.5,586.4 360.5,586.4 368.5,586.4 376.5,585.5 384.5,585.5 392.5,586.0 400.5,588.2 408.5,589.6 416.5,591.4 424.5,592.8 432.5,594.5 440.5,596.3 448.5,597.2 456.5,598.4 464.5,599.3 472.5,600.2 480.5,601.5 488.5,602.3 496.5,603.4 504.5,603.4 512.5,603.4 520.5,603.4 528.5,602.3 536.5,600.8 544.5,599.3 552.5,596.7 560.5,595.4 568.5,593.5 576.5,591.4 584.5,589.9 592.5,588.2 600.5,587.3 608.5,586.4 616.5,586.4 624.5,586.4 632.5,586.4 640.5,586.9 648.5,587.3 656.5,587.5 664.5,588.3 672.5,588.3 680.5,589.2 688.5,589.2 696.5,590.5 704.5,591.4 712.5,592.2 720.5,593.5 728.5,594.4 736.5,595.3 744.5,596.3 752.5,597.4 760.5,598.4 768.5,599.3 776.5,599.3 784.5,598.4 792.5,597.6 800.5,596.1 808.5,595.4 816.5,595.4 824.5,595.4 832.5,596.3 840.5,597.9 848.5,600.6 856.5,605.0 864.5,610.0 872.5,615.3 880.5,618.8 888.5,622.9 896.5,625.0 904.5,626.3 912.5,626.3 920.5,626.3 928.5,626.3 936.5,626.3 944.5,627.2 952.5,628.6 960.5,631.2 968.5,633.9 976.5,638.0 984.5,643.0 992.5,647.2 1000.5,650.2 1008.5,652.9 1016.5,655.2 1024.5,658.4 1032.5,659.6 1040.5,660.5 1048.5,660.5 1056.5,659.6 1064.5,658.4 1072.5,657.5 1080.5,656.4 1088.5,655.2 1096.5,653.4 1104.5,651.6 1112.5,650.2 1120.5,648.4" fill="none" stroke="#ff0000" stroke-width="1" stroke-dasharray="3 3"/>
<line x1="9" y1="710.5" x2="1423" y2="710.5" stroke="#c0c0c0" stroke-width="1" stroke-dasharray="3 3"/>
<line x1="9" y1="761.5" x2="1423" y2="761.5" stroke="#c0c0c0" stroke-width="1" stroke-dasharray="3 3"/>
<polyline points="8.5,756.0 16.5,740.9 24.5,728.1 32.5,733.3 40.5,732.4 48.5,729.4 56.5,739.1 64.5,735.0 72.5,731.1 80.5,736.5 88.5,738.2 96.5,738.2 104.5,741.4 112.5,746.6 120.5,738.2 128.5,748.3 136.5,748.3 144.5,741.3 152.5,743.2 160.5,745.7 168.5,742.3 176.5,726.4 184.5,728.5 192.5,725.3 200.5,721.4 208.5,714.3 216.5,714.3 224.5,719.6 232.5,718.2 240.5,721.8 248.5,727.6 256.5,735.6 264.5,732.9 272.5,730.8 280.5,730.6 288.5,731.5 296.5,733.5 304.5,739.1 312.5,727.2 320.5,722.6 328.5,721.4 336.5,725.8 344.5,729.4 352.5,724.6 360.5,722.3 368.5,735.2 376.5,735.6 384.5,740.4 392.5,736.5 400.5,736.5 408.5,733.5 416.5,729.4 424.5,732.4 432.5,741.4 440.5,739.5 448.5,740.5 456.5,731.5 464.5,738.2 472.5,738.2 480.5,732.4 488.5,734.2 496.5,735.6 504.5,732.0 512.5,730.3 520.5,737.4 528.5,724.9 536.5,716.1 544.5,719.6 552.5,723.2 560.5,722.3 568.5,724.1 576.5,736.5 584.5,729.4 592.5,724.4 600.5,732.4 608.5,726.4 616.5,730.6 624.5,727.6 632.5,726.4 640.5,727.6 648.5,736.5 656.5,732.0 664.5,727.2 672.5,730.6 680.5,733.8 688.5,730.3 696.5,734.7 704.5,733.3 712.5,737.4 720.5,741.4 728.5,734.7 736.5,728.1 744.5,735.6 752.5,735.6 760.5,735.6 768.5,725.8 776.5,722.3 784.5,719.3 792.5,722.3 800.5,722.3 808.5,739.5 816.5,747.5 824.5,741.4 832.5,750.1 840.5,759.5 848.5,759.5 856.5,759.5 864.5,756.3 872.5,745.3 880.5,746.6 888.5,732.4 896.5,733.3 904.5,733.3 912.5,739.1 920.5,752.4 928.5,759.2 936.5,755.4 944.5,756.3 952.5,757.4 960.5,758.3 968.5,763.1 976.5,765.4 984.5,766.6 992.5,764.5 1000.5,755.4 1008.5,758.1 1016.5,762.2 1024.5,763.6 1032.5,755.4 1040.5,756.3 1048.5,751.5 1056.5,746.2 1064.5,753.3 1072.5,753.3 1080.5,758.3 1088.5,757.2 1096.5,754.5 1104.5,746.2 1112.5,750.3 1120.5,750.3" fill="none" stroke="#1e90ff" stroke-width="1"/>
<rect x="7" y="24" width="1417" height="1" fill="#000"/>
<rect x="7" y="563" width="1417" height="1" fill="#000"/>
<rect x="7" y="24" width="1" height="540" fill="#000"/>
<rect x="1423" y="24" width="1" height="540" fill="#000"/>
<rect x="7" y="565" width="1417" height="1" fill="#000"/>
<rect x="7" y="668" width="1417" height="1" fill="#000"/>
<rect x="7" y="565" width="1" height="104" fill="#000"/>
<rect x="1423" y="565" width="1" height="104" fill="#000"/>
<rect x="7" y="670" width="1417" height="1" fill="#000"/>
<rect x="7" y="800" width="1417" height="1" fill="#000"/>
<rect x="7" y="670" width="1" height="131" fill="#000"/>
<rect x="1423" y="670" width="1" height="131" fill="#000"/>
<rect x="8" y="188" width="1417" height="3" fill="#ff0000"/>
<rect x="8" y="318" width="1417" height="3" fill="#ff0000"/>
<rect x="8" y="405" width="1417" height="3" fill="#00ff00"/>
<rect x="8" y="557" width="1417" height="3" fill="#0000ff"/>
<rect x="7" y="403" width="7" height="7" fill="#00ff00"/>
<rect x="10" y="406" width="1" height="1" fill="#ffffff"/>
<rect x="1417" y="403" width="7" height="7" fill="#00ff00"/>
<rect x="1420" y="406" width="1" height="1" fill="#ffffff"/>
<rect x="7" y="555" width="7" height="7" fill="#0000ff"/>
<rect x="10" y="558" width="1" height="1" fill="#ffffff"/>
<rect x="1417" y="555" width="7" height="7" fill="#0000ff"/>
<rect x="1420" y="558" width="1" height="1" fill="#ffffff"/>
<rect x="1424" y="32" width="2" height="1" fill="#000"/>
<rect x="1424" y="65" width="2" height="1" fill="#000"/>
<rect x="1424" y="98" width="2" height="1" fill="#000"/>
<rect x="1424" y="131" width="2" height="1" fill="#000"/>
<rect x="1424" y="164" width="2" height="1" fill="#000"/>
<rect x="1424" y="197" width="2" height="1" fill="#000"/>
<rect x="1424" y="230" width="2" height="1" fill="#000"/>
<rect x="1424" y="263" width="2" height="1" fill="#000"/>
<rect x="1424" y="296" width="2" height="1" fill="#000"/>
<rect x="1424" y="329" width="2" height="1" fill="#000"/>
<rect x="1424" y="362" width="2" height="1" fill="#000"/>
<rect x="1424" y="395" width="2" height="1" fill="#000"/>
<rect x="1424" y="428" width="2" height="1" fill="#000"/>
<rect x="1424" y="461" width="2" height="1" fill="#000"/>
<rect x="1424" y="494" width="2" height="1" fill="#000"/>
<rect x="1424" y="527" width="2" height="1" fill="#000"/>
<rect x="1424" y="605" width="2" height="1" fill="#000"/>
<rect x="1424" y="710" width="2" height="1" fill="#000"/>
<rect x="1424" y="761" width="2" height="1" fill="#000"/>
<rect x="8" y="801" width="1" height="3" fill="#000"/>
<rect x="72" y="801" width="1" height="3" fill="#000"/>
<rect x="136" y="801" width="1" height="3" fill="#000"/>
<rect x="200" y="801" width="1" height="3" fill="#000"/>
<rect x="264" y="801" width="1" height="3" fill="#000"/>
<rect x="328" y="801" width="1" height="3" fill="#000"/>
<rect x="392" y="801" width="1" height="3" fill="#000"/>
<rect x="456" y="801" width="1" height="3" fill="#000"/>
<rect x="520" y="801" width="1" height="3" fill="#000"/>
<rect x="584" y="801" width="1" height="3" fill="#000"/>
<rect x="648" y="801" width="1" height="3" fill="#000"/>
<rect x="712" y="801" width="1" height="3" fill="#000"/>
<rect x="776" y="801" width="1" height="3" fill="#000"/>
<rect x="840" y="801" width="1" height="3" fill="#000"/>
<rect x="904" y="801" width="1" height="3" fill="#000"/>
<rect x="968" y="801" width="1" height="3" fill="#000"/>
<rect x="1032" y="801" width="1" height="3" fill="#000"/>
<rect x="1096" y="801" width="1" height="3" fill="#000"/>
<rect x="1425" y="183" width="41" height="11" fill="#ff0000"/>
<rect x="1425" y="313" width="41" height="11" fill="#ff0000"/>
<rect x="1425" y="400" width="41" height="11" fill="#00ff00"/>
<rect x="1425" y="513" width="41" height="11" fill="#000000"/>
<rect x="1425" y="552" width="41" height="11" fill="#0000ff"/>
</svg>
<div class="ax" style="top:27.5px">1.35850</div>
<div class="ax" style="top:60.5px">1.35490</div>
<div class="ax" style="top:93.5px">1.35120</div>
<div class="ax" style="top:126.5px">1.34760</div>
<div class="ax" style="top:159.5px">1.34400</div>
<div class="ax" style="top:192.5px">1.34040</div>
<div class="ax" style="top:225.5px">1.33680</div>
<div class="ax" style="top:258.5px">1.33310</div>
<div class="ax" style="top:291.5px">1.32950</div>
<div class="ax" style="top:324.5px">1.32590</div>
<div class="ax" style="top:357.5px">1.32230</div>
<div class="ax" style="top:390.5px">1.31870</div>
<div class="ax" style="top:423.5px">1.31500</div>
<div class="ax" style="top:456.5px">1.31140</div>
<div class="ax" style="top:489.5px">1.30780</div>
<div class="ax" style="top:522.5px">1.30420</div>
<div class="ax" style="top:183.3px;color:#fff">1.34125</div>
<div class="ax" style="top:313.3px;color:#fff">1.32701</div>
<div class="ax" style="top:400.3px;color:#fff">1.31749</div>
<div class="ax" style="top:513.3px;color:#fff">1.30517</div>
<div class="ax" style="top:552.3px;color:#fff">1.30085</div>
<div class="ax" style="top:567px;left:1427.5px">0.005484</div>
<div class="ax" style="top:600.5px;left:1427.5px">0.00</div>
<div class="ax" style="top:657px;left:1427px">-0.008973</div>
<div class="ax" style="top:673px;left:1427.5px">100</div>
<div class="ax" style="top:706px;left:1426.6px">70</div>
<div class="ax" style="top:757px;left:1426.6px">30</div>
<div class="ax" style="top:789px;left:1427px">0</div>
<div class="dt" style="left:7.3px">5 Feb 2019</div>
<div class="dt" style="left:71.3px">14 Feb 2019</div>
<div class="dt" style="left:135.3px">24 Feb 2019</div>
<div class="dt" style="left:199.3px">5 Mar 2019</div>
<div class="dt" style="left:263.3px">14 Mar 2019</div>
<div class="dt" style="left:327.3px">24 Mar 2019</div>
<div class="dt" style="left:391.3px">2 Apr 2019</div>
<div class="dt" style="left:455.3px">11 Apr 2019</div>
<div class="dt" style="left:519.3px">22 Apr 2019</div>
<div class="dt" style="left:583.3px">1 May 2019</div>
<div class="dt" style="left:647.3px">10 May 2019</div>
<div class="dt" style="left:711.3px">20 May 2019</div>
<div class="dt" style="left:775.3px">29 May 2019</div>
<div class="dt" style="left:839.3px">7 Jun 2019</div>
<div class="dt" style="left:903.3px">17 Jun 2019</div>
<div class="dt" style="left:967.3px">26 Jun 2019</div>
<div class="dt" style="left:1031.3px">5 Jul 2019</div>
<div class="dt" style="left:1095.3px">15 Jul 2019</div>
<div class="a" style="left:10.5px;top:31.5px;width:0;height:0;border-left:4px solid transparent;border-right:4px solid transparent;border-bottom:4px solid #000"></div>
<div class="a" style="left:23.3px;top:27.2px;font-size:9.75px;color:#000;-webkit-text-stroke:0.12px #000">USDCAD-,Daily&nbsp; <span style="letter-spacing:-0.3px">1.30539 1.30604 1.30465 1.30517</span></div>
<div class="a" style="left:12.2px;top:569px;font-size:9.75px;letter-spacing:-0.22px;color:#000;-webkit-text-stroke:0.12px #000">MACD(12,26,9) -0.005320 -0.006187</div>
<div class="a" style="left:12.2px;top:674.2px;font-size:9.75px;letter-spacing:-0.22px;color:#000;-webkit-text-stroke:0.12px #000">RSI(14) 38.4635</div>
<div class="a" style="left:11px;top:44px;width:52px;height:24px;background:linear-gradient(#5858f8,#3838e0);box-sizing:border-box;border:1px solid #1c1cc0;border-bottom:none"></div>
<div class="a" style="left:178px;top:44px;width:52px;height:24px;background:linear-gradient(#5858f8,#3838e0);box-sizing:border-box;border:1px solid #1c1cc0;border-bottom:none"></div>
<div class="a" style="left:11px;top:68px;width:109px;height:40px;background:linear-gradient(#3434dc,#1616c0 50%,#0000a8);box-sizing:border-box;border-right:1px solid #0000a0;border-bottom:1px solid #0000a0"></div>
<div class="a" style="left:122px;top:68px;width:108px;height:40px;background:linear-gradient(#3434dc,#1616c0 50%,#0000a8);box-sizing:border-box;border-right:1px solid #0000a0;border-bottom:1px solid #0000a0"></div>
<div class="a" style="left:15px;top:68px;width:44px;height:1px;background:#8080ee"></div>
<div class="a" style="left:182px;top:68px;width:44px;height:1px;background:#8080ee"></div>
<div class="a" style="left:65px;top:44px;width:111px;height:22px;background:#fff;box-sizing:border-box;border:1px solid #a8a8a8"></div>
<div class="a" style="left:66px;top:45px;width:20px;height:20px;background:linear-gradient(#e8e8e8 45%,#d0d0d0 55%,#c8c8c8);box-sizing:border-box;border-right:1px solid #a8a8a8;box-shadow:inset 1px 1px 0 #f6f6f6,inset -1px -1px 0 #f0f0f0"></div>
<div class="a" style="left:154px;top:45px;width:21px;height:20px;background:linear-gradient(#e8e8e8 45%,#d0d0d0 55%,#c8c8c8);box-sizing:border-box;border-left:1px solid #a8a8a8;box-shadow:inset 1px 1px 0 #f6f6f6,inset -1px -1px 0 #f0f0f0"></div>
<div class="a" style="left:73px;top:53px;width:0;height:0;border-left:3px solid transparent;border-right:3px solid transparent;border-top:3.5px solid #5068c0"></div>
<div class="a" style="left:161.5px;top:53px;width:0;height:0;border-left:3px solid transparent;border-right:3px solid transparent;border-bottom:3.5px solid #5068c0"></div>
<div class="a" style="left:127.5px;top:48.5px;font-size:11.8px;color:#000">1.00</div>
<div class="a" style="left:23.5px;top:50px;font-size:12px;color:#fff;transform:scaleX(0.87);transform-origin:0 0">SELL</div>
<div class="a" style="left:191.5px;top:50px;font-size:12px;color:#fff;transform:scaleX(0.93);transform-origin:0 0">BUY</div>
<div class="a" style="left:31.5px;top:88.5px;font-size:12px;font-weight:bold;color:#fff">1.30</div>
<div class="a" style="left:141.5px;top:88.5px;font-size:12px;font-weight:bold;color:#fff">1.30</div>
<div class="a" style="left:58.5px;top:69px;font-size:34px;color:#fff;transform:scaleX(0.92);transform-origin:0 0">51</div>
<div class="a" style="left:169.5px;top:69px;font-size:34px;color:#fff;transform:scaleX(0.92);transform-origin:0 0">54</div>
<div class="a" style="left:98px;top:73px;font-size:12px;font-weight:bold;color:#fff">7</div>
<div class="a" style="left:209px;top:73px;font-size:12px;font-weight:bold;color:#fff">0</div>

</body></html>
